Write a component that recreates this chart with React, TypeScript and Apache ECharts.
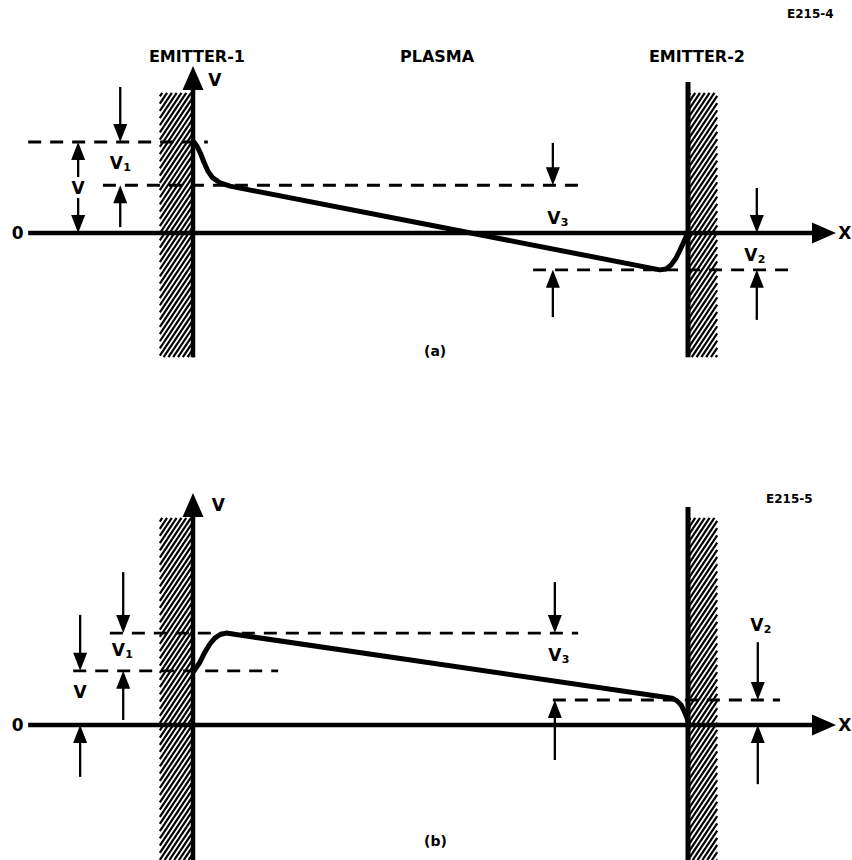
import React, { useEffect, useRef } from "react";
import * as echarts from "echarts";

// x: position across the gap (emitter-1 at 0, emitter-2 at 10); y: potential (arbitrary units, 0 = reference)

// ---------- Panel (a) ----------
const curveA: number[][] = [
  [0.02, 2.0], [0.08, 1.91], [0.14, 1.78], [0.22, 1.56], [0.3, 1.36], [0.4, 1.21],
  [0.55, 1.1], [0.75, 1.03],
  [9.43, -0.81], [9.56, -0.79], [9.66, -0.7], [9.76, -0.55], [9.84, -0.37],
  [9.92, -0.18], [10, 0.02],
];
// dashed reference levels: [xFrom, xTo, level]
const levelsA: number[][] = [
  [-3.33, 0.3, 2.0],
  [-1.82, 7.82, 1.05],
  [6.87, 12.02, -0.81],
];
// dimension arrows (vertical): [x, yFrom, yTo(head)]
const dimArrowsA: number[][] = [
  [-1.47, 3.21, 2.0], [-1.47, 0.13, 1.05],
  [-2.32, 1.23, 2.0], [-2.32, 0.77, 0],
  [7.27, 1.98, 1.05], [7.27, -1.85, -0.81],
  [11.39, 0.99, 0], [11.39, -1.91, -0.81],
];
// axis arrows: [xFrom, yFrom, xTo, yTo]
const axisArrowsA: number[][] = [
  [-3.33, 0, 12.99, 0],
  [0, -2.73, 0, 3.67],
];
// emitter-2 wall: [x, yFrom, yTo]
const wallA: number[] = [10, -2.73, 3.32];
// hatched emitters: [xLeft, xRight, yBottom, yTop]
const hatchA: number[][] = [
  [-0.67, 0, -2.73, 3.08],
  [10, 10.59, -2.73, 3.08],
];
const labelsA = [
  { t: "V", s: "", x: 0.44, y: 3.36 },
  { t: "V", s: "1", x: -1.47, y: 1.54 },
  { t: "V", s: "", x: -2.32, y: 0.99 },
  { t: "0", s: "", x: -3.54, y: 0 },
  { t: "V", s: "3", x: 7.37, y: 0.33 },
  { t: "V", s: "2", x: 11.35, y: -0.48 },
  { t: "X", s: "", x: 13.17, y: 0 },
];
const headingsA = [
  { t: "EMITTER-1", x: 0.08, y: 3.87 },
  { t: "PLASMA", x: 4.93, y: 3.87 },
  { t: "EMITTER-2", x: 10.18, y: 3.87 },
];

// ---------- Panel (b) ----------
const curveB: number[][] = [
  [0.02, 1.19], [0.14, 1.38], [0.24, 1.6], [0.34, 1.78], [0.44, 1.91], [0.55, 1.99],
  [0.67, 2.02],
  [9.68, 0.59], [9.78, 0.53], [9.86, 0.44], [9.92, 0.31], [9.98, 0.15], [10.02, 0],
];
const levelsB: number[][] = [
  [-1.68, 7.78, 2.02],
  [-2.42, 1.72, 1.19],
  [7.27, 11.86, 0.55],
];
const dimArrowsB: number[][] = [
  [-1.41, 3.36, 2.02], [-1.41, 0.11, 1.19],
  [-2.28, 2.42, 1.19], [-2.28, -1.14, 0],
  [7.31, 3.14, 2.02], [7.31, -0.77, 0.55],
  [11.41, 1.82, 0.55], [11.41, -1.3, 0],
];
const axisArrowsB: number[][] = [
  [-3.33, 0, 12.99, 0],
  [0, -2.97, 0, 5.1],
];
const wallB: number[] = [10, -2.97, 4.79];
const hatchB: number[][] = [
  [-0.67, 0, -2.97, 4.55],
  [10, 10.59, -2.97, 4.55],
];
const labelsB = [
  { t: "V", s: "", x: 0.51, y: 4.84 },
  { t: "V", s: "1", x: -1.43, y: 1.65 },
  { t: "V", s: "", x: -2.28, y: 0.73 },
  { t: "0", s: "", x: -3.54, y: 0 },
  { t: "V", s: "3", x: 7.39, y: 1.54 },
  { t: "V", s: "2", x: 11.47, y: 2.2 },
  { t: "X", s: "", x: 13.17, y: 0 },
];

// ---------- layout ----------
const W = 852;
const H = 860;
const PANEL_H = 430;
const PX_PER_X = 49.5;
const X0_PX = 193;
const PX_PER_Y = 45.5;
const ZERO_A = 233;
const ZERO_B = 295;
const FONT = "DejaVu Sans";

function yExtent(zero: number) {
  return { min: -(PANEL_H - zero) / PX_PER_Y, max: zero / PX_PER_Y };
}

function arrowRender(headW: number, headL: number, shaftW: number) {
  return (params: any, api: any) => {
    const a = api.coord([api.value(0), api.value(1)]);
    const b = api.coord([api.value(2), api.value(3)]);
    const dx = b[0] - a[0];
    const dy = b[1] - a[1];
    const len = Math.hypot(dx, dy) || 1;
    const ux = dx / len;
    const uy = dy / len;
    const bx = b[0] - ux * headL;
    const by = b[1] - uy * headL;
    const px = -uy;
    const py = ux;
    return {
      type: "group",
      children: [
        {
          type: "line",
          shape: { x1: a[0], y1: a[1], x2: bx + ux * 2, y2: by + uy * 2 },
          style: { stroke: "#000", lineWidth: shaftW },
        },
        {
          type: "polygon",
          shape: {
            points: [
              [b[0], b[1]],
              [bx + (px * headW) / 2, by + (py * headW) / 2],
              [bx - (px * headW) / 2, by - (py * headW) / 2],
            ],
          },
          style: { fill: "#000" },
        },
      ],
    };
  };
}

function hatchRender(params: any, api: any) {
  const tl = api.coord([api.value(0), api.value(3)]);
  const br = api.coord([api.value(1), api.value(2)]);
  const L = tl[0], T = tl[1], R = br[0], B = br[1];
  const k = 1.5; // slope of hatch strokes
  const gap = 4.8; // horizontal spacing
  const dc = gap * k;
  const children: any[] = [];
  for (let c = k * L + T + dc / 2; c < k * R + B; c += dc) {
    const xa = Math.max(L, (c - B) / k);
    const xb = Math.min(R, (c - T) / k);
    if (xb <= xa) continue;
    children.push({
      type: "line",
      shape: { x1: xa, y1: c - k * xa, x2: xb, y2: c - k * xb },
      style: { stroke: "#000", lineWidth: 2.2 },
    });
  }
  return { type: "group", children };
}

function textRender(list: any[], size: number) {
  return (params: any, api: any) => {
    const item = list[params.dataIndex];
    const p = api.coord([api.value(0), api.value(1)]);
    const children: any[] = [
      {
        type: "text",
        x: p[0] - (item.s ? 4 : 0),
        y: p[1],
        style: {
          text: item.t,
          fill: "#000",
          fontSize: size,
          fontWeight: "bold",
          fontFamily: FONT,
          align: "center",
          verticalAlign: "middle",
        },
      },
    ];
    if (item.s) {
      children.push({
        type: "text",
        x: p[0] + 3,
        y: p[1] + 5,
        style: {
          text: item.s,
          fill: "#000",
          fontSize: 11,
          fontWeight: "bold",
          fontFamily: FONT,
          align: "left",
          verticalAlign: "middle",
        },
      });
    }
    return { type: "group", children };
  };
}

function panelSeries(
  idx: number,
  curve: number[][],
  levels: number[][],
  dimArrows: number[][],
  axisArrows: number[][],
  wall: number[],
  hatch: number[][],
  labels: any[]
) {
  const ax = { xAxisIndex: idx, yAxisIndex: idx };
  const series: any[] = [];
  series.push({
    type: "custom",
    ...ax,
    renderItem: hatchRender,
    data: hatch,
    encode: { x: [0, 1], y: [2, 3] },
    silent: true,
  });
  series.push({
    type: "line",
    ...ax,
    data: [[wall[0], wall[1]], [wall[0], wall[2]]],
    symbol: "none",
    lineStyle: { color: "#000", width: 5 },
    silent: true,
  });
  levels.forEach((l) => {
    series.push({
      type: "line",
      ...ax,
      data: [[l[0], l[2]], [l[1], l[2]]],
      symbol: "none",
      lineStyle: { color: "#000", width: 2.8, type: [13, 9] },
      silent: true,
    });
  });
  series.push({
    type: "line",
    ...ax,
    data: curve,
    smooth: false,
    symbol: "none",
    lineStyle: { color: "#000", width: 5, cap: "round", join: "round" },
    silent: true,
  });
  series.push({
    type: "custom",
    ...ax,
    renderItem: arrowRender(21, 24, 4.5),
    data: axisArrows,
    encode: { x: [0, 2], y: [1, 3] },
    silent: true,
  });
  series.push({
    type: "custom",
    ...ax,
    renderItem: arrowRender(14, 18, 2.3),
    data: dimArrows.map((a) => [a[0], a[1], a[0], a[2]]),
    encode: { x: [0, 2], y: [1, 3] },
    silent: true,
  });
  series.push({
    type: "custom",
    ...ax,
    renderItem: textRender(labels, 17),
    data: labels.map((l) => [l.x, l.y]),
    encode: { x: 0, y: 1 },
    silent: true,
  });
  return series;
}

export default function App() {
  const ref = useRef<HTMLDivElement>(null);
  useEffect(() => {
    if (!ref.current) return;
    const chart = echarts.init(ref.current, null, { renderer: "svg" });
    const xMin = -X0_PX / PX_PER_X;
    const xMax = (W - X0_PX) / PX_PER_X;
    const ya = yExtent(ZERO_A);
    const yb = yExtent(ZERO_B);
    const series = [
      ...panelSeries(0, curveA, levelsA, dimArrowsA, axisArrowsA, wallA, hatchA, labelsA),
      ...panelSeries(1, curveB, levelsB, dimArrowsB, axisArrowsB, wallB, hatchB, labelsB),
      {
        type: "custom",
        xAxisIndex: 0,
        yAxisIndex: 0,
        renderItem: textRender(headingsA.map((h) => ({ t: h.t, s: "" })), 16),
        data: headingsA.map((h) => [h.x, h.y]),
        encode: { x: 0, y: 1 },
        silent: true,
      },
    ];
    chart.setOption({
      animation: false,
      backgroundColor: "#fff",
      grid: [
        { left: 0, right: 0, top: 0, height: PANEL_H },
        { left: 0, right: 0, top: PANEL_H, height: PANEL_H },
      ],
      xAxis: [
        { type: "value", gridIndex: 0, min: xMin, max: xMax, show: false },
        { type: "value", gridIndex: 1, min: xMin, max: xMax, show: false },
      ],
      yAxis: [
        { type: "value", gridIndex: 0, min: ya.min, max: ya.max, show: false },
        { type: "value", gridIndex: 1, min: yb.min, max: yb.max, show: false },
      ],
      graphic: [
        { type: "text", left: 787, top: 8, style: { text: "E215-4", fontSize: 12, fontWeight: "bold", fontFamily: FONT, fill: "#000" } },
        { type: "text", left: 766, top: 493, style: { text: "E215-5", fontSize: 12, fontWeight: "bold", fontFamily: FONT, fill: "#000" } },
        { type: "text", left: 424, top: 344, style: { text: "(a)", fontSize: 14, fontWeight: "bold", fontFamily: FONT, fill: "#000" } },
        { type: "text", left: 424, top: 834, style: { text: "(b)", fontSize: 14, fontWeight: "bold", fontFamily: FONT, fill: "#000" } },
      ],
      series,
    });
    return () => chart.dispose();
  }, []);
  return (
    <div
      ref={ref}
      style={{ position: "absolute", left: 0, top: 0, width: W, height: H, background: "#fff" }}
    />
  );
}
